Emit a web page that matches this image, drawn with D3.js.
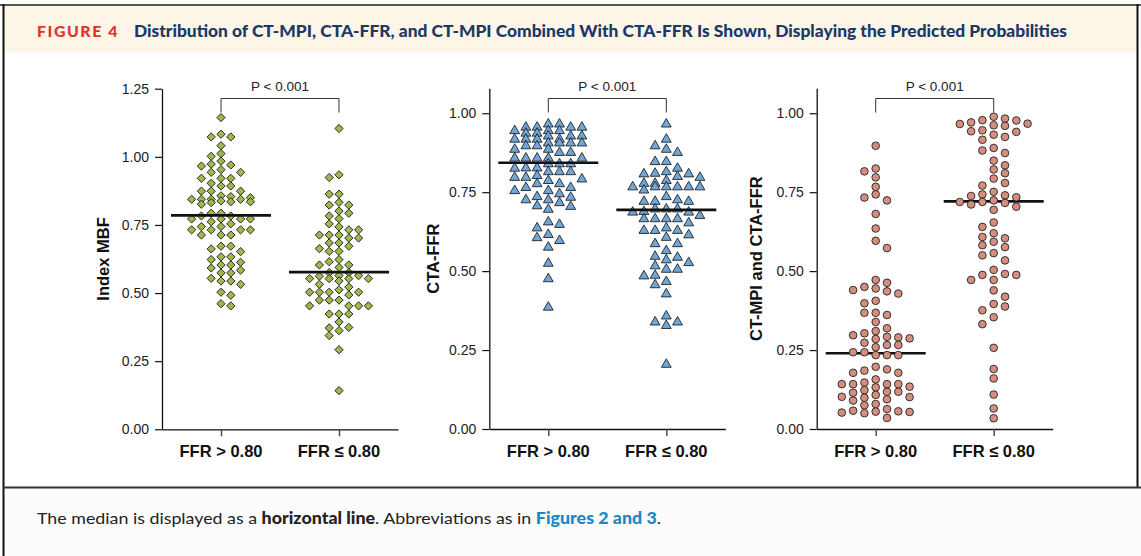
<!DOCTYPE html>
<html><head><meta charset="utf-8">
<script src="https://cdn.jsdelivr.net/npm/d3@7"></script>
<style>body{margin:0;background:#fff}svg{display:block}</style>
</head><body><svg id="c" width="1141" height="556"></svg>
<script>
// ---------------- data ----------------
const groups = ["FFR > 0.80", "FFR \u2264 0.80"];
const pLabel = "P < 0.001";
const mbfTicks = [0, 0.25, 0.5, 0.75, 1.0, 1.25];
const ffrTicks = [0, 0.25, 0.5, 0.75, 1.0];

const mbfHigh = [1.144,1.083,1.073,1.073,1.041,1.012,1.002,0.984,0.973,0.970,0.966,0.953,0.943,0.943,0.921,0.921,0.921,0.903,0.893,0.893,0.874,0.874,0.874,0.857,0.854,0.850,0.844,0.844,0.844,0.844,0.838,0.835,0.835,0.832,0.826,0.793,0.793,0.783,0.783,0.772,0.772,0.772,0.772,0.762,0.754,0.744,0.744,0.732,0.732,0.732,0.732,0.713,0.713,0.713,0.672,0.672,0.662,0.652,0.633,0.633,0.623,0.613,0.603,0.603,0.592,0.584,0.574,0.574,0.554,0.544,0.544,0.532,0.503,0.492,0.461,0.453];
const mbfLow = [1.104,0.934,0.924,0.863,0.863,0.833,0.823,0.823,0.801,0.793,0.783,0.773,0.754,0.743,0.732,0.732,0.713,0.713,0.713,0.702,0.702,0.684,0.684,0.672,0.663,0.653,0.653,0.623,0.615,0.603,0.603,0.594,0.575,0.575,0.564,0.564,0.562,0.553,0.553,0.553,0.553,0.544,0.532,0.522,0.512,0.503,0.503,0.503,0.503,0.493,0.474,0.474,0.474,0.453,0.453,0.453,0.453,0.423,0.423,0.423,0.394,0.374,0.372,0.362,0.344,0.292,0.142];
const mbfMedians = [0.785, 0.577];

const ctaHigh = [0.967,0.967,0.957,0.957,0.957,0.957,0.946,0.946,0.946,0.938,0.938,0.929,0.929,0.929,0.919,0.919,0.919,0.919,0.907,0.907,0.907,0.907,0.898,0.898,0.887,0.887,0.877,0.877,0.859,0.859,0.859,0.859,0.859,0.841,0.841,0.841,0.828,0.828,0.827,0.816,0.816,0.816,0.804,0.798,0.798,0.793,0.788,0.778,0.778,0.766,0.766,0.756,0.756,0.746,0.737,0.735,0.727,0.727,0.718,0.708,0.706,0.697,0.657,0.649,0.638,0.617,0.607,0.598,0.577,0.526,0.477,0.387];
const ctaLow = [0.967,0.919,0.898,0.887,0.877,0.848,0.848,0.827,0.816,0.811,0.809,0.809,0.801,0.798,0.788,0.779,0.779,0.768,0.768,0.768,0.768,0.768,0.768,0.758,0.737,0.727,0.722,0.722,0.722,0.698,0.698,0.698,0.690,0.688,0.688,0.677,0.667,0.667,0.667,0.667,0.654,0.638,0.630,0.630,0.630,0.616,0.608,0.588,0.588,0.566,0.548,0.545,0.537,0.528,0.518,0.507,0.507,0.488,0.486,0.468,0.458,0.429,0.359,0.340,0.340,0.329,0.206];
const ctaMedians = [0.843, 0.694];

const combHigh = [0.897,0.825,0.816,0.797,0.767,0.743,0.733,0.724,0.681,0.635,0.596,0.573,0.472,0.463,0.450,0.445,0.440,0.436,0.429,0.406,0.398,0.368,0.368,0.361,0.339,0.319,0.310,0.303,0.297,0.292,0.290,0.287,0.285,0.273,0.266,0.266,0.259,0.243,0.243,0.234,0.234,0.234,0.197,0.189,0.185,0.178,0.178,0.157,0.147,0.142,0.142,0.142,0.142,0.134,0.132,0.123,0.118,0.118,0.115,0.108,0.102,0.101,0.099,0.094,0.090,0.079,0.075,0.063,0.058,0.056,0.055,0.054,0.052,0.050,0.035];
const combLow = [0.989,0.983,0.978,0.977,0.971,0.967,0.966,0.962,0.960,0.946,0.943,0.941,0.932,0.925,0.916,0.890,0.882,0.874,0.850,0.835,0.822,0.810,0.793,0.779,0.771,0.751,0.743,0.740,0.738,0.734,0.724,0.719,0.719,0.716,0.711,0.704,0.694,0.654,0.640,0.620,0.608,0.604,0.593,0.582,0.576,0.557,0.550,0.534,0.504,0.491,0.488,0.488,0.472,0.472,0.439,0.419,0.396,0.388,0.376,0.354,0.332,0.257,0.190,0.160,0.109,0.065,0.034];
const combMedians = [0.240, 0.721];

const yTitles = ["Index MBF", "CTA-FFR", "CT-MPI and CTA-FFR"];
const figLabel = "FIGURE 4";
const figTitle = "Distribution of CT-MPI, CTA-FFR, and CT-MPI Combined With CTA-FFR Is Shown, Displaying the Predicted Probabilities";

// ---------------- frame ----------------
const svg = d3.select("#c");
const FONT = "'Liberation Sans', Arial, Helvetica, sans-serif";
const HFONT = "Lato, 'Open Sans', sans-serif";

svg.append("rect").attr("x",4).attr("y",6).attr("width",1133).attr("height",46).attr("fill","#fdf6e6");
svg.append("rect").attr("x",4).attr("y",489).attr("width",1137).attr("height",67).attr("fill","#fcfcfc");
svg.append("line").attr("x1",0).attr("x2",1141).attr("y1",5).attr("y2",5).attr("stroke","#555").attr("stroke-width",2);
svg.append("line").attr("x1",3.5).attr("x2",3.5).attr("y1",4).attr("y2",556).attr("stroke","#111").attr("stroke-width",2);
svg.append("line").attr("x1",1137.5).attr("x2",1137.5).attr("y1",4).attr("y2",488).attr("stroke","#111").attr("stroke-width",2);
svg.append("line").attr("x1",3).attr("x2",1141).attr("y1",487.5).attr("y2",487.5).attr("stroke","#333").attr("stroke-width",2);

svg.append("text").attr("x",37).attr("y",37).attr("font-family",HFONT).attr("font-weight",900)
  .attr("font-size",14.5).attr("letter-spacing",1.4).attr("fill","#e2322c").attr("textLength",82).attr("lengthAdjust","spacingAndGlyphs").text(figLabel);
svg.append("text").attr("x",134).attr("y",37).attr("font-family",HFONT).attr("font-weight",900)
  .attr("font-size",16.5).attr("fill","#1c3869").attr("textLength",933).attr("lengthAdjust","spacingAndGlyphs").text(figTitle);

const foot = svg.append("text").attr("x",37).attr("y",524).attr("font-family",HFONT).attr("font-size",16)
  .attr("fill","#222").attr("textLength",624).attr("lengthAdjust","spacingAndGlyphs");
foot.append("tspan").text("The median is displayed as a ");
foot.append("tspan").attr("font-weight",900).text("horizontal line");
foot.append("tspan").text(". Abbreviations as in ");
foot.append("tspan").attr("font-weight",900).attr("fill","#1b87c4").text("Figures 2 and 3");
foot.append("tspan").text(".");

// ---------------- panels ----------------
const panels = [
  {x0:162, top:88.7, bottom:429.3, dmax:1.25, ticks:mbfTicks, sets:[mbfHigh,mbfLow], med:mbfMedians,
   title:yTitles[0], titleX:109, shape:"diamond", step:9.8, fill:"#9fb84c", lineTop:true},
  {x0:489.3, top:88.3, bottom:429, dmax:1.079, ticks:ffrTicks, sets:[ctaHigh,ctaLow], med:ctaMedians,
   title:yTitles[1], titleX:439, shape:"triangle", step:11.2, fill:"#70a6d8", lineTop:true},
  {x0:816.7, top:88.3, bottom:429, dmax:1.079, ticks:ffrTicks, sets:[combHigh,combLow], med:combMedians,
   title:yTitles[2], titleX:762, shape:"circle", step:11.3, fill:"#d58d7d", lineTop:false}
];

function swarm(values, cx, step, minDist, y) {
  const pts = values.map(v => ({v, y: y(v)})).sort((a,b) => a.y - b.y);
  const order = [0,-1,1,-2,2,-3,3];
  const placed = [];
  pts.forEach((p,i) => {
    const ord = (i % 2) ? order.map(c => -c) : order;
    let best = 0, bestD = -1;
    for (const c of ord) {
      let d = Infinity;
      for (const q of placed) if (q.col === c) d = Math.min(d, Math.abs(q.y - p.y));
      if (d >= minDist) { best = c; break; }
      if (d > bestD) { bestD = d; best = c; }
    }
    p.col = best; placed.push(p);
  });
  return placed.map(p => ({v:p.v, y:p.y, x: cx + p.col*step}));
}

const symbolFor = {
  diamond: d3.symbol().type(d3.symbolSquare).size(34),
  triangle: d3.symbol().type(d3.symbolTriangle).size(42),
  circle: d3.symbol().type(d3.symbolCircle).size(46)
};

panels.forEach(P => {
  const g = svg.append("g");
  const y = d3.scaleLinear().domain([0, P.dmax]).range([P.bottom, P.top]);
  const x = d3.scalePoint().domain(groups).range([P.x0, P.x0 + 236]).padding(0.5);

  // y axis
  const ya = g.append("g").attr("transform",`translate(${P.x0},0)`)
    .call(d3.axisLeft(y).tickValues(P.ticks).tickFormat(d3.format(".2f")).tickSize(7).tickSizeOuter(0).tickPadding(6));
  ya.select(".domain").attr("stroke","#111").attr("stroke-width",1.3);
  ya.selectAll(".tick line").attr("stroke","#111").attr("stroke-width",1.2);
  ya.selectAll(".tick text").attr("font-family",FONT).attr("font-size",14).attr("fill","#222");

  // x axis
  const xa = g.append("g").attr("transform",`translate(0,${P.bottom})`)
    .call(d3.axisBottom(x).tickSize(7).tickSizeOuter(0).tickFormat(""));
  xa.select(".domain").attr("stroke","#111").attr("stroke-width",1.3);
  xa.selectAll(".tick line").attr("stroke","#444").attr("stroke-width",1.4);
  g.selectAll(".xl").data(groups).enter().append("text")
    .attr("x", d => x(d)).attr("y", 457).attr("text-anchor","middle")
    .attr("font-family",FONT).attr("font-weight",700).attr("font-size",16.5).attr("fill","#111").text(d => d);

  // y title
  g.append("text").attr("transform",`translate(${P.titleX},${(P.top+P.bottom)/2}) rotate(-90)`)
    .attr("text-anchor","middle").attr("font-family",FONT).attr("font-weight",700).attr("font-size",16.5)
    .attr("fill","#111").text(P.title);

  // bracket + p value
  const bx1 = x(groups[0]), bx2 = x(groups[1]);
  g.append("path").attr("d",`M${bx1},112.5V98.5H${bx2}V112.5`).attr("fill","none").attr("stroke","#333").attr("stroke-width",1);
  g.append("text").attr("x",(bx1+bx2)/2).attr("y",91).attr("text-anchor","middle")
    .attr("font-family",FONT).attr("font-size",13.5).attr("fill","#222").text(pLabel);

  const drawMed = () => g.append("g").selectAll("line").data(P.med).enter().append("line")
    .attr("x1",(d,i) => x(groups[i]) - 50).attr("x2",(d,i) => x(groups[i]) + 50)
    .attr("y1", d => y(d)).attr("y2", d => y(d)).attr("stroke","#111").attr("stroke-width",2.6);

  if (!P.lineTop) drawMed();
  P.sets.forEach((vals, gi) => {
    const pts = swarm(vals, x(groups[gi]), P.step, 7.5, y);
    g.append("g").selectAll("path").data(pts).enter().append("path")
      .attr("d", symbolFor[P.shape])
      .attr("transform", d => `translate(${d.x},${d.y})` + (P.shape === "diamond" ? " rotate(45)" : "") + (P.shape === "triangle" ? " translate(0,0.5)" : ""))
      .attr("fill", P.fill).attr("stroke","#222").attr("stroke-width", 0.9);
  });
  if (P.lineTop) drawMed();
});
</script></body></html>
